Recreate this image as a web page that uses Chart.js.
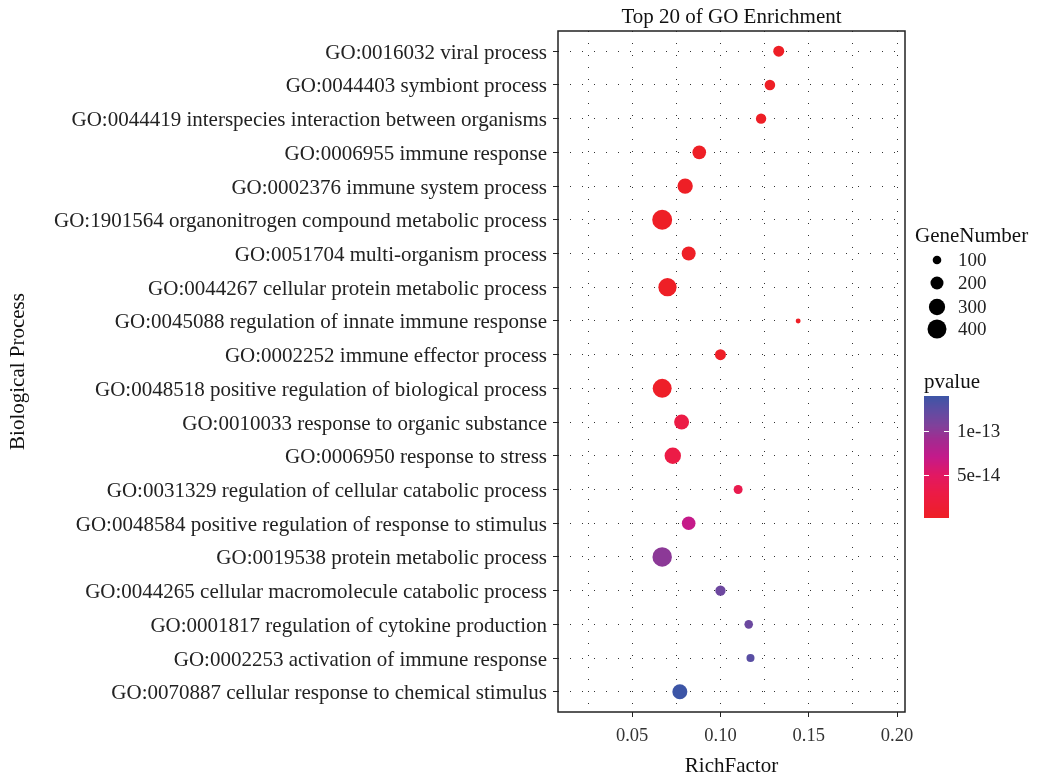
<!DOCTYPE html>
<html><head><meta charset="utf-8">
<script src="https://cdn.jsdelivr.net/npm/chart.js@4/dist/chart.umd.min.js"></script>
<style>html,body{margin:0;padding:0;background:#fff}#wrap{width:1038px;height:780px;position:relative}</style>
</head><body><div id="wrap"><canvas id="c" width="1038" height="780"></canvas></div>
<script>
const categories = [
  "GO:0016032 viral process",
  "GO:0044403 symbiont process",
  "GO:0044419 interspecies interaction between organisms",
  "GO:0006955 immune response",
  "GO:0002376 immune system process",
  "GO:1901564 organonitrogen compound metabolic process",
  "GO:0051704 multi-organism process",
  "GO:0044267 cellular protein metabolic process",
  "GO:0045088 regulation of innate immune response",
  "GO:0002252 immune effector process",
  "GO:0048518 positive regulation of biological process",
  "GO:0010033 response to organic substance",
  "GO:0006950 response to stress",
  "GO:0031329 regulation of cellular catabolic process",
  "GO:0048584 positive regulation of response to stimulus",
  "GO:0019538 protein metabolic process",
  "GO:0044265 cellular macromolecule catabolic process",
  "GO:0001817 regulation of cytokine production",
  "GO:0002253 activation of immune response",
  "GO:0070887 cellular response to chemical stimulus"
];
const richFactor = [0.133, 0.128, 0.123, 0.088, 0.080, 0.067, 0.082, 0.070, 0.144, 0.100,
                    0.067, 0.078, 0.073, 0.110, 0.082, 0.067, 0.100, 0.116, 0.117, 0.077];
const geneNumber = [149, 140, 135, 218, 270, 441, 228, 371, 48, 149,
                    401, 258, 305, 107, 218, 420, 135, 100, 90, 258];
const pValue = [2e-17, 3e-17, 4e-17, 5e-17, 6e-17, 1e-16, 2e-16, 3e-16, 4e-16, 6e-16,
                2e-15, 2.8e-14, 2.9e-14, 3.5e-14, 7.0e-14, 1.01e-13, 1.17e-13, 1.18e-13, 1.27e-13, 1.41e-13];
const xMajorTicks = [0.05, 0.10, 0.15, 0.20];
const xMinorTicks = [0.025, 0.075, 0.125, 0.175];
const sizeLegendValues = [100, 200, 300, 400];
const colorLegendTicks = [1e-13, 5e-14];

// styles
const SERIF = '"Liberation Serif", "Times New Roman", serif';
const colorStops = [[0, [238, 31, 38]], [0.2, [236, 27, 69]], [0.35, [226, 24, 98]], [0.5, [196, 26, 138]],
                    [0.65, [160, 44, 145]], [0.75, [130, 64, 154]], [0.88, [95, 76, 162]], [1, [60, 85, 166]]];
const pMin = Math.min(...pValue), pMax = Math.max(...pValue);
function pColor(p) {
  const t = Math.max(0, Math.min(1, (p - pMin) / (pMax - pMin)));
  for (let i = 1; i < colorStops.length; i++) {
    if (t <= colorStops[i][0]) {
      const [t0, c0] = colorStops[i - 1], [t1, c1] = colorStops[i];
      const f = (t - t0) / (t1 - t0);
      const c = c0.map((v, k) => Math.round(v + (c1[k] - v) * f));
      return `rgb(${c[0]},${c[1]},${c[2]})`;
    }
  }
  return 'rgb(60,85,166)';
}
function sizeRadius(n) { return Math.sqrt(Math.max(0.238 * n - 5.3, 1)); }

const points = categories.map((c, i) => ({x: richFactor[i], y: i, r: sizeRadius(geneNumber[i])}));

const extras = {
  id: 'extras',
  afterDraw(chart) {
    const {ctx, chartArea: a} = chart;
    ctx.save();
    // panel border
    ctx.strokeStyle = '#222'; ctx.lineWidth = 1.5;
    ctx.strokeRect(a.left, a.top, a.right - a.left, a.bottom - a.top);
    // title
    ctx.fillStyle = '#111';
    ctx.font = '21px ' + SERIF;
    ctx.textAlign = 'center'; ctx.textBaseline = 'alphabetic';
    ctx.fillText('Top 20 of GO Enrichment', (a.left + a.right) / 2, 23);
    // size legend
    const lx = a.right + 10;
    ctx.textAlign = 'left';
    ctx.fillText('GeneNumber', lx, 242);
    const dotYs = [260, 283, 307, 329];
    sizeLegendValues.forEach((v, i) => {
      ctx.beginPath(); ctx.fillStyle = '#000';
      ctx.arc(a.right + 32, dotYs[i], sizeRadius(v), 0, Math.PI * 2); ctx.fill();
      ctx.fillStyle = '#222'; ctx.font = '19px ' + SERIF; ctx.textBaseline = 'middle';
      ctx.fillText(String(v), a.right + 53, dotYs[i] + 1);
    });
    // colour bar
    ctx.fillStyle = '#111'; ctx.font = '21px ' + SERIF; ctx.textBaseline = 'alphabetic';
    ctx.fillText('pvalue', a.right + 19, 388);
    const bx = a.right + 19, bw = 25, bTop = 396, bBot = 518;
    for (let y = bTop; y < bBot; y++) {
      const p = pMax - (y + 0.5 - bTop) / (bBot - bTop) * (pMax - pMin);
      ctx.fillStyle = pColor(p);
      ctx.fillRect(bx, y, bw, 1);
    }
    colorLegendTicks.forEach(v => {
      const y = Math.round(bTop + (pMax - v) / (pMax - pMin) * (bBot - bTop)) + 0.5;
      ctx.strokeStyle = '#fff'; ctx.lineWidth = 1;
      ctx.beginPath(); ctx.moveTo(bx, y); ctx.lineTo(bx + 5, y);
      ctx.moveTo(bx + bw - 5, y); ctx.lineTo(bx + bw, y); ctx.stroke();
      ctx.fillStyle = '#222'; ctx.font = '19px ' + SERIF; ctx.textBaseline = 'middle';
      ctx.fillText(v.toExponential(0), bx + bw + 8, y + 1);
    });
    ctx.restore();
  }
};

new Chart(document.getElementById('c'), {
  type: 'bubble',
  data: {datasets: [{
    data: points,
    backgroundColor: pValue.map(pColor),
    borderWidth: 0,
    hoverBorderWidth: 0
  }]},
  options: {
    responsive: false,
    animation: false,
    events: [],
    layout: {padding: {left: 0, right: 133, top: 31, bottom: 0}},
    plugins: {legend: {display: false}, tooltip: {enabled: false}, title: {display: false}},
    scales: {
      x: {
        type: 'linear', min: 0.008, max: 0.2045,
        afterBuildTicks: s => { s.ticks = [...xMinorTicks, ...xMajorTicks].sort((a, b) => a - b).map(v => ({value: v})); },
        afterFit: s => { s.height = 68; },
        grid: {
          color: '#333', lineWidth: 1, drawTicks: true, tickLength: 5,
          tickColor: c => (c.tick && xMajorTicks.some(t => Math.abs(t - c.tick.value) < 1e-9)) ? '#222' : 'rgba(0,0,0,0)'
        },
        border: {display: false, dash: [1, 11]},
        ticks: {
          autoSkip: false, maxRotation: 0, padding: 8, color: '#333',
          font: {family: SERIF, size: 18.5},
          callback: v => xMajorTicks.some(t => Math.abs(t - v) < 1e-9) ? v.toFixed(2) : ''
        },
        title: {display: true, text: 'RichFactor', color: '#111', font: {family: SERIF, size: 21}, padding: {top: 0, bottom: 1}}
      },
      y: {
        type: 'linear', min: -0.6, max: categories.length - 0.4, reverse: true,
        afterBuildTicks: s => { s.ticks = categories.map((c, i) => ({value: i})); },
        afterFit: s => { s.width = 558; },
        grid: {color: '#333', lineWidth: 1, drawTicks: true, tickLength: 5, tickColor: '#222'},
        border: {display: false, dash: [1, 11]},
        ticks: {
          autoSkip: false, padding: 6, color: '#222', labelOffset: 2,
          font: {family: SERIF, size: 21},
          callback: v => categories[v]
        },
        title: {display: true, text: 'Biological Process', color: '#111', font: {family: SERIF, size: 21}, padding: {top: 6, bottom: 0}}
      }
    }
  },
  plugins: [extras]
});
</script>
</body></html>
